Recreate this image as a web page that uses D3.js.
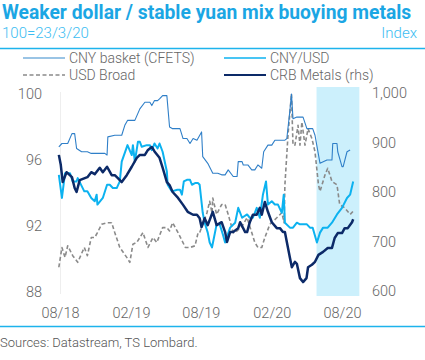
<!DOCTYPE html>
<html>
<head>
<meta charset="utf-8">
<script src="https://d3js.org/d3.v7.min.js"></script>
<style>
  body { margin: 0; background: #fff; }
  text { font-family: Roboto, "Open Sans", sans-serif; }
</style>
</head>
<body>
<div id="chart"></div>
<script>
// series, [date, value]
var cnyBasket = [
  ["2018-07-29", 96.8], ["2018-08-06", 97.0], ["2018-08-21", 97.0], ["2018-09-01", 97.6], ["2018-09-08", 97.6],
  ["2018-09-13", 96.7], ["2018-09-26", 96.5], ["2018-10-11", 96.5], ["2018-10-21", 96.4], ["2018-11-25", 96.4],
  ["2018-12-01", 96.3], ["2018-12-03", 97.4], ["2018-12-21", 97.5], ["2019-01-08", 97.5], ["2019-01-16", 98.1],
  ["2019-01-23", 98.4], ["2019-02-11", 98.4], ["2019-02-24", 99.1], ["2019-03-09", 99.5], ["2019-03-22", 99.5],
  ["2019-03-27", 99.3], ["2019-04-03", 99.6], ["2019-04-11", 99.6], ["2019-04-16", 99.7], ["2019-04-24", 99.9],
  ["2019-05-05", 99.9], ["2019-05-12", 98.0], ["2019-05-20", 97.9], ["2019-06-08", 97.9], ["2019-06-16", 97.3],
  ["2019-06-26", 97.3], ["2019-07-04", 97.0], ["2019-07-12", 97.3], ["2019-07-22", 97.2], ["2019-08-03", 97.7],
  ["2019-08-06", 96.2], ["2019-08-19", 95.8], ["2019-09-01", 95.2], ["2019-09-14", 95.2], ["2019-09-24", 95.1],
  ["2019-10-03", 95.1], ["2019-10-11", 95.4], ["2019-10-24", 95.0], ["2019-11-03", 95.0], ["2019-11-06", 95.9],
  ["2019-11-16", 95.9], ["2019-11-19", 95.7], ["2019-12-01", 95.7], ["2019-12-11", 95.4], ["2019-12-19", 95.4],
  ["2019-12-27", 95.7], ["2020-01-06", 95.5], ["2020-01-11", 96.5], ["2020-01-22", 96.9], ["2020-02-01", 96.9],
  ["2020-02-09", 97.2], ["2020-03-06", 97.2], ["2020-03-11", 97.3], ["2020-03-19", 99.0], ["2020-03-23", 100.0],
  ["2020-03-27", 98.5], ["2020-04-06", 98.6], ["2020-04-22", 98.6], ["2020-05-02", 97.9], ["2020-05-17", 97.9],
  ["2020-05-23", 97.5], ["2020-06-05", 95.8], ["2020-06-23", 96.0], ["2020-07-06", 96.0], ["2020-07-08", 97.0],
  ["2020-07-19", 97.0], ["2020-07-21", 96.5], ["2020-08-01", 95.6], ["2020-08-04", 95.6], ["2020-08-14", 96.5],
  ["2020-08-22", 96.6]
];

var cnyUsd = [
  ["2018-07-29", 95.1], ["2018-08-06", 93.7], ["2018-08-14", 95.2], ["2018-08-27", 95.2], ["2018-09-03", 94.7],
  ["2018-09-13", 94.7], ["2018-09-16", 94.9], ["2018-10-03", 94.1], ["2018-10-11", 94.1], ["2018-10-21", 93.7],
  ["2018-10-30", 93.5], ["2018-11-04", 93.9], ["2018-11-06", 93.3], ["2018-11-20", 93.7], ["2018-12-01", 94.5],
  ["2018-12-08", 94.5], ["2018-12-16", 94.3], ["2018-12-26", 94.3], ["2019-01-03", 94.7], ["2019-01-08", 95.9],
  ["2019-01-23", 96.9], ["2019-02-03", 96.3], ["2019-02-06", 96.9], ["2019-02-11", 95.9], ["2019-02-19", 97.1],
  ["2019-02-24", 97.1], ["2019-03-01", 96.8], ["2019-03-14", 96.9], ["2019-03-22", 96.9], ["2019-03-27", 96.6],
  ["2019-04-03", 97.0], ["2019-04-11", 96.7], ["2019-04-16", 97.0], ["2019-04-24", 96.5], ["2019-05-05", 95.3],
  ["2019-05-07", 94.5], ["2019-05-18", 94.1], ["2019-06-01", 94.2], ["2019-06-08", 94.2], ["2019-06-13", 93.9],
  ["2019-06-18", 94.7], ["2019-06-26", 94.8], ["2019-07-04", 94.8], ["2019-07-09", 94.5], ["2019-07-17", 94.6],
  ["2019-07-25", 94.6], ["2019-07-29", 94.5], ["2019-08-06", 92.8], ["2019-08-11", 92.2], ["2019-08-19", 91.6],
  ["2019-08-24", 91.0], ["2019-08-30", 90.7], ["2019-09-11", 92.1], ["2019-09-19", 92.1], ["2019-09-27", 91.5],
  ["2019-10-03", 91.0], ["2019-10-16", 91.9], ["2019-10-29", 92.2], ["2019-11-06", 93.1], ["2019-11-16", 92.5],
  ["2019-11-29", 92.7], ["2019-12-06", 92.5], ["2019-12-14", 92.5], ["2019-12-24", 93.1], ["2020-01-01", 92.5],
  ["2020-01-09", 93.9], ["2020-01-17", 94.7], ["2020-01-22", 93.3], ["2020-02-01", 93.5], ["2020-02-09", 93.3],
  ["2020-02-17", 93.3], ["2020-02-27", 92.8], ["2020-03-03", 93.9], ["2020-03-06", 92.2], ["2020-03-19", 91.9],
  ["2020-03-27", 91.9], ["2020-04-06", 92.2], ["2020-04-14", 92.1], ["2020-04-22", 92.1], ["2020-05-02", 92.1],
  ["2020-05-10", 91.9], ["2020-05-17", 91.9], ["2020-05-28", 91.0], ["2020-06-05", 91.6], ["2020-06-13", 91.9],
  ["2020-06-25", 91.9], ["2020-07-06", 92.2], ["2020-07-19", 92.7], ["2020-08-01", 93.1], ["2020-08-14", 93.7],
  ["2020-08-22", 93.9], ["2020-08-30", 94.7]
];

var usdBroad = [
  ["2018-07-29", 89.5], ["2018-08-06", 90.7], ["2018-08-14", 90.1], ["2018-08-21", 90.8], ["2018-09-03", 90.2],
  ["2018-09-16", 89.8], ["2018-10-03", 90.7], ["2018-10-11", 90.2], ["2018-10-21", 91.3], ["2018-10-30", 91.3],
  ["2018-11-06", 91.6], ["2018-11-17", 92.1], ["2018-12-01", 92.2], ["2018-12-13", 92.2], ["2018-12-21", 91.6],
  ["2019-01-03", 90.7], ["2019-01-21", 90.1], ["2019-01-29", 89.8], ["2019-02-06", 90.9], ["2019-02-16", 91.0],
  ["2019-03-04", 91.6], ["2019-03-17", 90.7], ["2019-03-30", 91.3], ["2019-04-09", 91.0], ["2019-04-24", 91.9],
  ["2019-05-05", 91.9], ["2019-05-12", 91.7], ["2019-05-20", 92.2], ["2019-06-03", 91.6], ["2019-06-22", 90.7],
  ["2019-07-04", 90.7], ["2019-07-17", 90.8], ["2019-07-25", 91.6], ["2019-07-29", 91.6], ["2019-08-17", 92.8],
  ["2019-08-24", 93.5], ["2019-08-30", 92.8], ["2019-09-01", 93.7], ["2019-09-11", 92.7], ["2019-09-24", 93.3],
  ["2019-10-03", 93.3], ["2019-10-11", 92.7], ["2019-10-24", 91.6], ["2019-10-29", 91.6], ["2019-11-16", 92.0],
  ["2019-11-29", 92.5], ["2019-12-11", 91.6], ["2019-12-19", 91.0], ["2019-12-27", 90.7], ["2020-01-06", 90.7],
  ["2020-01-14", 91.3], ["2020-01-27", 92.1], ["2020-02-14", 92.5], ["2020-02-27", 92.8], ["2020-03-04", 92.2],
  ["2020-03-06", 94.5], ["2020-03-14", 97.5], ["2020-03-23", 100.0], ["2020-03-27", 96.9], ["2020-04-01", 96.9],
  ["2020-04-09", 98.1], ["2020-04-14", 96.9], ["2020-04-19", 98.3], ["2020-04-27", 96.9], ["2020-05-05", 97.9],
  ["2020-05-15", 97.3], ["2020-05-23", 96.5], ["2020-06-01", 94.5], ["2020-06-05", 94.1], ["2020-06-18", 95.1],
  ["2020-06-25", 95.5], ["2020-07-06", 94.7], ["2020-07-19", 94.5], ["2020-07-26", 93.3], ["2020-08-08", 93.1],
  ["2020-08-22", 92.7], ["2020-08-30", 92.9]
];

var crbMetals = [
  ["2018-07-29", 875], ["2018-08-03", 855], ["2018-08-08", 820], ["2018-08-18", 840], ["2018-09-01", 830],
  ["2018-09-08", 808], ["2018-09-13", 800], ["2018-09-21", 824], ["2018-10-11", 830], ["2018-10-21", 840],
  ["2018-10-30", 836], ["2018-11-12", 849], ["2018-11-20", 840], ["2018-12-01", 851], ["2018-12-13", 834],
  ["2018-12-21", 834], ["2018-12-29", 828], ["2019-01-08", 820], ["2019-01-21", 834], ["2019-02-03", 851],
  ["2019-02-16", 869], ["2019-02-24", 875], ["2019-03-09", 875], ["2019-03-17", 885], ["2019-03-27", 891],
  ["2019-04-03", 882], ["2019-04-16", 869], ["2019-04-24", 849], ["2019-05-05", 820], ["2019-05-12", 814],
  ["2019-05-20", 800], ["2019-06-03", 788], ["2019-06-16", 774], ["2019-06-28", 760], ["2019-07-12", 754],
  ["2019-07-22", 754], ["2019-07-29", 747], ["2019-08-03", 729], ["2019-08-11", 747], ["2019-08-19", 733],
  ["2019-09-01", 760], ["2019-09-11", 733], ["2019-09-24", 739], ["2019-10-03", 719], ["2019-10-08", 699],
  ["2019-10-16", 719], ["2019-10-24", 719], ["2019-11-06", 727], ["2019-11-11", 739], ["2019-11-24", 719],
  ["2019-11-29", 719], ["2019-12-06", 739], ["2019-12-14", 754], ["2019-12-24", 754], ["2020-01-01", 768],
  ["2020-01-06", 754], ["2020-01-14", 780], ["2020-01-22", 760], ["2020-02-01", 739], ["2020-02-14", 727],
  ["2020-02-22", 727], ["2020-03-01", 719], ["2020-03-06", 719], ["2020-03-11", 699], ["2020-03-19", 667],
  ["2020-03-24", 648], ["2020-04-01", 659], ["2020-04-06", 655], ["2020-04-14", 626], ["2020-04-22", 618],
  ["2020-05-01", 626], ["2020-05-05", 648], ["2020-05-15", 653], ["2020-05-23", 659], ["2020-06-01", 673],
  ["2020-06-13", 679], ["2020-06-25", 687], ["2020-07-06", 687], ["2020-07-13", 707], ["2020-07-21", 717],
  ["2020-08-01", 717], ["2020-08-08", 727], ["2020-08-16", 727], ["2020-08-27", 739], ["2020-08-30", 745]
];

var shadedPeriod = ["2020-05-27", "2020-09-15"];
var xTicks = ["2018-08-01", "2019-02-01", "2019-08-01", "2020-02-01", "2020-08-01"];
var leftTicks = [88, 92, 96, 100];
var rightTicks = [600, 700, 800, 900, 1000];

var width = 425, height = 360;
var parse = d3.timeParse("%Y-%m-%d");

var svg = d3.select("#chart").append("svg")
    .attr("width", width)
    .attr("height", height);

// scales
var x = d3.scaleTime()
    .domain([parse("2018-08-01"), parse("2020-08-01")])
    .range([60, 342]);
var yL = d3.scaleLinear().domain([88, 100]).range([292, 94]);
var yR = d3.scaleLinear().domain([600, 1000]).range([291, 93]);

// header
svg.append("text")
    .attr("x", 2).attr("y", 19)
    .style("font-size", "19.3px").style("font-weight", 700)
    .style("fill", "#1ba6e4")
    .text("Weaker dollar / stable yuan mix buoying metals");
svg.append("text")
    .attr("x", 2).attr("y", 38)
    .style("font-size", "15px").style("font-weight", 300)
    .style("fill", "#3cbdf2")
    .text("100=23/3/20");
svg.append("text")
    .attr("x", 417).attr("y", 38)
    .attr("text-anchor", "end")
    .style("font-size", "15px").style("font-weight", 300)
    .style("fill", "#3cbdf2")
    .text("Index");
svg.append("line")
    .attr("x1", 0).attr("x2", width).attr("y1", 48.5).attr("y2", 48.5)
    .style("stroke", "#1db3ec").style("stroke-width", 1.5);

// shaded period
svg.append("rect")
    .attr("x", x(parse(shadedPeriod[0])))
    .attr("y", 87)
    .attr("width", x(parse(shadedPeriod[1])) - x(parse(shadedPeriod[0])))
    .attr("height", 209)
    .style("fill", "#ccf0fc");

// faint left axis line
svg.append("line")
    .attr("x1", 60.5).attr("x2", 60.5).attr("y1", 92).attr("y2", 294)
    .style("stroke", "#eeeeee");

// axes
var axisText = function(g) {
    g.select(".domain").remove();
    g.selectAll(".tick line").remove();
    g.selectAll("text")
        .style("font-family", "Roboto, sans-serif")
        .style("font-size", "14.5px")
        .style("font-weight", 300)
        .style("fill", "#666");
};

svg.append("g")
    .attr("transform", "translate(0,300)")
    .call(d3.axisBottom(x).tickValues(xTicks.map(parse)).tickFormat(d3.timeFormat("%m/%y")).tickSize(0).tickPadding(8))
    .call(axisText);

svg.append("g")
    .attr("transform", "translate(42,0)")
    .call(d3.axisLeft(yL).tickValues(leftTicks).tickSize(0).tickPadding(0))
    .call(axisText);

svg.append("g")
    .attr("transform", "translate(372,0)")
    .call(d3.axisRight(yR).tickValues(rightTicks).tickSize(0).tickPadding(0).tickFormat(d3.format(",")))
    .call(axisText);

// lines
var series = [
    {name: "USD Broad", data: usdBroad, y: yL, color: "#8a8a8a", width: 1.6, dash: "4,2.5"},
    {name: "CNY basket (CFETS)", data: cnyBasket, y: yL, color: "#2f7fc8", width: 1.1, dash: null},
    {name: "CNY/USD", data: cnyUsd, y: yL, color: "#0cb2f0", width: 2, dash: null},
    {name: "CRB Metals (rhs)", data: crbMetals, y: yR, color: "#0c2a68", width: 2.5, dash: null}
];

series.forEach(function(s) {
    var line = d3.line()
        .x(function(d) { return x(parse(d[0])); })
        .y(function(d) { return s.y(d[1]); });
    svg.append("path")
        .datum(s.data)
        .attr("d", line)
        .style("fill", "none")
        .style("stroke", s.color)
        .style("stroke-width", s.width)
        .style("stroke-linejoin", "round")
        .style("stroke-dasharray", s.dash);
});

// legend
var legend = [
    {s: series[1], x: 23, y: 58},
    {s: series[2], x: 224, y: 58},
    {s: series[0], x: 23, y: 75},
    {s: series[3], x: 224, y: 75}
];
legend.forEach(function(l) {
    svg.append("line")
        .attr("x1", l.x).attr("x2", l.x + 42)
        .attr("y1", l.y).attr("y2", l.y)
        .style("stroke", l.s.name == "CNY basket (CFETS)" ? "#78b1dc" : l.s.color)
        .style("stroke-width", l.s.name == "CRB Metals (rhs)" ? 2 : 1.6)
        .style("stroke-dasharray", l.s.dash);
    svg.append("text")
        .attr("x", l.x + 46).attr("y", l.y + 5)
        .style("font-size", "14px").style("font-weight", 300)
        .style("fill", "#666")
        .text(l.s.name);
});

// footer
svg.append("line")
    .attr("x1", 0).attr("x2", width).attr("y1", 326.5).attr("y2", 326.5)
    .style("stroke", "#1db3ec").style("stroke-width", 1.5);
svg.append("text")
    .attr("x", 0).attr("y", 347)
    .style("font-size", "13px").style("font-weight", 300)
    .style("fill", "#555")
    .text("Sources: Datastream, TS Lombard.");
</script>
</body>
</html>
